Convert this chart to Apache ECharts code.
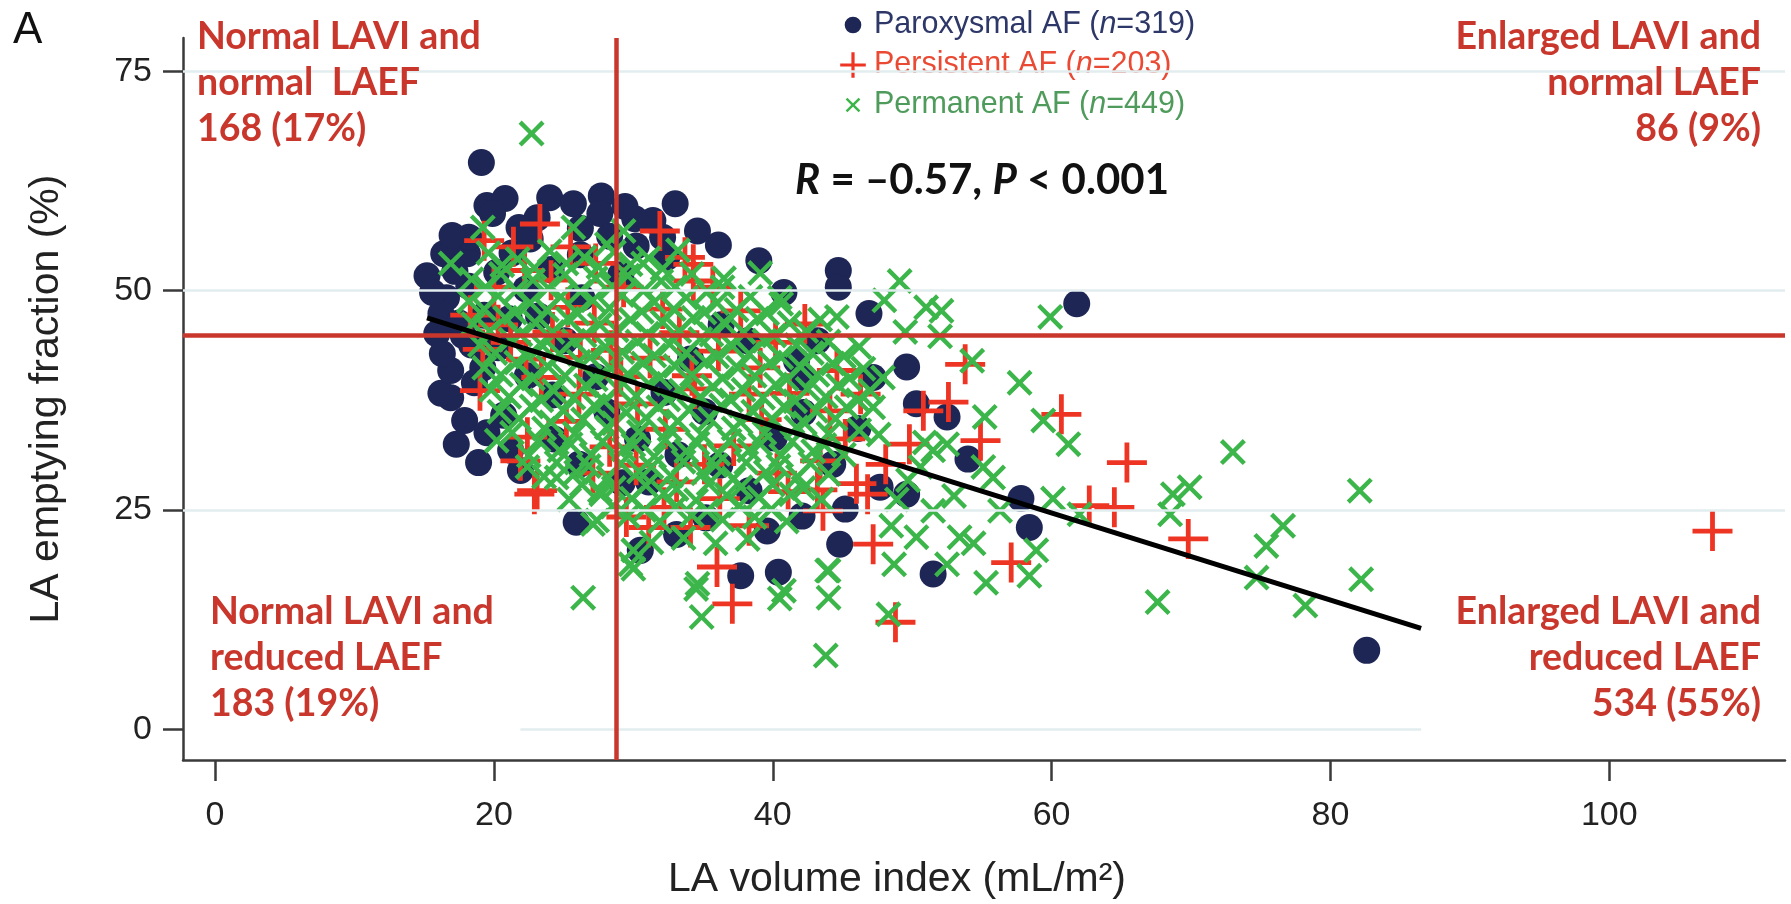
<!DOCTYPE html>
<html><head><meta charset="utf-8">
<script src="https://cdn.jsdelivr.net/npm/echarts@6/dist/echarts.min.js"></script>
<style>html,body{margin:0;padding:0;background:#fff}#c{width:1791px;height:904px}</style>
</head><body><div id="c"></div>
<script>
const xTicks = [0, 20, 40, 60, 80, 100];
const yTicks = [0, 25, 50, 75];
const laviCut = 28.8;
const laefCut = 44.9;
const trend = [[15.2, 46.9], [86.5, 11.5]];

const paroxysmal = [
[19.1,64.6],[19.5,59.7],[20.8,60.5],[24.0,60.6],[25.7,59.9],[27.7,60.8],[27.6,58.8],[19.9,58.8],
[15.2,51.7],[16.4,54.2],[18.1,54.2],[16.6,49.2],[16.2,47.4],[15.9,45.1],
[33.0,59.9],[34.6,56.8],[31.4,58.0],[32.4,53.8],[39.0,53.4],[40.8,49.8],[44.7,52.3],[44.7,50.4],[46.9,47.4],[43.2,44.3],
[16.9,37.8],[16.2,38.3],[16.9,40.9],[16.3,42.8],[17.3,32.5],[20.7,35.8],[21.2,31.8],[21.9,29.5],[25.9,23.6],
[49.6,41.3],[50.3,37.1],[47.2,40.1],[49.6,26.8],[47.7,27.6],[51.5,17.7],[37.7,17.5],[40.4,17.9],[44.8,21.1],[39.6,22.6],[41.7,42.0],[42.2,40.1],
[61.8,48.5],[52.5,35.6],[54.0,30.8],[57.8,26.3],[58.4,23.0],[82.6,9.0],[30.5,20.4],
[18.2,50.5],[17.5,46.3],[18.4,43.8],[19.2,41.2],[20.3,43.5],[21.1,46.8],[22.3,50.2],[24.1,52.4],[26.2,54.1],[28.3,56.2],
[30.2,55.1],[29.1,51.8],[26.3,49.2],[23.2,47.1],[25.1,44.3],[27.3,40.2],[24.2,38.1],[22.4,40.3],[28.1,36.2],[30.3,33.1],
[32.2,38.4],[34.1,42.2],[36.3,46.1],[38.2,44.3],[35.1,36.2],[33.2,31.3],[31.1,28.2],[36.2,30.1],[38.3,27.2],[40.1,33.2],
[42.2,36.1],[44.3,30.2],[46.1,34.3],[45.2,25.1],[42.1,24.3],[35.2,24.1],[33.1,22.2],[29.2,28.1],[26.1,30.2],[24.3,33.1],
[19.3,47.2],[20.2,52.1],[21.3,54.3],[18.2,56.1],[17.2,52.2],[26.2,57.1],[30.1,58.2],[32.1,56.1],[23.1,58.3],[21.8,57.2],
[17.8,44.9],[18.6,39.5],[17.9,35.2],[19.5,33.8],[18.9,30.4],[15.6,49.8],[17.0,56.3],[22.6,55.9],[29.4,59.6],[36.1,55.2]
];

const persistent = [
[19.3,55.7],[23.3,57.6],[21.4,55.0],[25.5,55.0],[29.3,50.4],[20.0,50.4],[31.9,56.8],[34.3,53.0],[34.3,51.1],[35.7,50.4],[37.7,47.7],
[53.8,41.6],[52.6,37.3],[60.7,35.9],[54.9,32.9],[65.4,30.4],[62.7,25.5],[64.5,25.3],[69.8,21.7],[57.1,19.0],[107.4,22.6],
[37.1,14.3],[48.8,12.2],
[19.0,38.6],[22.4,33.3],[23.1,27.2],[29.5,24.2],[21.9,30.6],
[44.6,40.9],[50.8,36.3],[49.8,32.5],[43.4,30.6],[46.0,28.0],[47.2,21.1],[43.6,24.9],[36.0,18.5],[31.1,23.0],[34.1,23.0],
[33.7,53.8],[32.1,47.9],[34.4,38.8],[22.9,26.8],[46.8,26.8],
[21.2,44.1],[22.3,42.2],[23.4,40.1],[24.2,45.3],[25.3,48.1],[27.2,46.3],[28.4,43.2],[26.1,38.2],[25.2,35.1],[28.3,32.2],
[30.2,30.1],[32.3,34.2],[34.2,40.3],[36.1,43.1],[38.3,38.2],[39.2,35.3],[40.3,29.2],[41.1,27.1],[36.2,26.3],[33.1,28.2],
[30.3,37.1],[31.2,42.3],[33.3,45.2],[40.2,44.1],[42.3,46.2],[44.1,36.3],[45.2,33.1],[46.3,38.2],[20.3,46.1],[24.1,51.2],
[27.3,53.1],[22.2,52.3],[18.3,47.2],[19.2,43.3],[29.1,40.2],[37.2,32.3],[35.1,30.2],[43.2,27.3],[48.1,30.2],[38.3,23.2],
[27.1,29.2],[32.2,25.3],[41.2,38.3],[39.1,41.2],[26.2,42.4]
];

const permanent = [
[22.7,67.9],[19.2,57.2],[16.9,53.1],[29.3,56.8],[25.7,57.2],[28.1,55.3],
[49.1,51.1],[51.0,48.1],[44.6,47.0],[39.1,52.0],[40.5,49.2],[36.4,50.4],[30.7,53.1],
[59.9,47.0],[52.1,47.7],[54.3,42.0],[57.7,39.5],[59.4,35.2],[61.2,32.5],[55.2,35.6],[52.5,32.5],[55.8,28.7],[55.1,29.9],
[73.0,31.6],[82.1,27.2],[60.1,26.3],[62.0,24.5],[68.7,26.8],[69.9,27.6],[68.5,24.5],[76.6,23.2],[75.4,20.9],[74.7,17.3],
[82.2,17.1],[78.2,14.1],[67.6,14.5],[55.3,16.7],[58.4,17.5],[58.9,20.4],[54.4,21.2],[52.5,18.8],[56.3,24.9],
[26.4,15.0],[30.0,18.3],[34.5,16.0],[34.9,12.8],[40.5,14.9],[44.0,15.0],[44.0,18.1],[43.8,8.4],[48.3,13.1],
[20.2,32.9],[22.4,29.9],[27.1,23.4],[30.0,20.4],[29.8,18.8],[24.5,28.7],[27.6,27.2],
[47.2,36.7],[50.3,21.9],[48.7,18.8],[43.9,18.1],[40.8,15.8],[34.6,16.6],[51.5,24.9],
[49.7,28.4],[53.4,21.9],[48.5,23.2],[50.9,32.7],[47.6,33.6],[48.9,26.2],[50.6,29.9],[53.0,26.6],[52.0,44.8],[49.5,45.3],[48.0,48.9],
[47.9,40.1],[51.5,31.8],
[19.6,54.3],[21.7,53.6],[24.0,54.5],[26.5,53.8],[28.6,54.4],[31.1,53.7],[33.2,54.6],
[18.4,51.3],[20.5,51.9],[22.8,51.2],[25.1,51.8],[27.3,51.4],[29.6,51.7],[32.0,51.1],[34.2,51.9],[36.5,51.4],
[18.2,48.8],[20.3,49.4],[22.6,48.6],[24.8,49.3],[27.1,48.9],[29.2,49.5],[31.5,48.7],[33.8,49.2],[36.0,48.6],[38.4,49.3],[40.6,48.5],
[18.5,46.2],[20.8,46.9],[23.0,46.3],[25.3,46.8],[27.6,46.1],[29.8,46.7],[32.1,46.4],[34.3,46.9],[36.6,46.2],[38.9,46.8],[41.2,46.3],[43.4,46.7],
[19.0,43.8],[21.2,44.4],[23.5,43.7],[25.7,44.3],[28.0,43.6],[30.3,44.2],[32.6,43.9],[34.8,44.5],[37.1,43.7],[39.4,44.3],[41.7,43.8],[44.0,44.2],[46.2,43.6],
[19.3,41.2],[21.6,41.8],[23.9,41.3],[26.1,41.9],[28.4,41.1],[30.7,41.7],[33.0,41.4],[35.2,41.9],[37.5,41.2],[39.8,41.8],[42.0,41.3],[44.3,41.7],[46.5,41.1],
[19.8,38.7],[22.0,39.3],[24.3,38.6],[26.6,39.2],[28.9,38.8],[31.1,39.4],[33.4,38.6],[35.7,39.1],[37.9,38.7],[40.2,39.3],[42.5,38.8],[44.7,39.2],[47.0,38.6],
[20.4,36.2],[22.7,36.8],[25.0,36.3],[27.2,36.9],[29.5,36.1],[31.8,36.7],[34.0,36.4],[36.3,36.9],[38.6,36.2],[40.8,36.8],[43.1,36.3],[45.3,36.7],
[21.3,33.8],[23.6,34.3],[25.8,33.7],[28.1,34.4],[30.4,33.9],[32.6,34.2],[34.9,33.6],[37.2,34.3],[39.4,33.8],[41.7,34.4],[44.0,33.7],[46.2,34.1],
[22.5,31.2],[24.7,31.8],[27.0,31.3],[29.3,31.9],[31.5,31.1],[33.8,31.7],[36.1,31.4],[38.3,31.8],[40.6,31.2],[42.9,31.7],[45.1,31.3],
[23.6,28.8],[25.9,29.3],[28.2,28.7],[30.4,29.4],[32.7,28.9],[35.0,29.2],[37.2,28.6],[39.5,29.3],[41.8,28.8],[44.0,29.1],
[25.4,26.2],[27.7,26.8],[29.9,26.3],[32.2,26.9],[34.5,26.1],[36.7,26.7],[39.0,26.4],[41.3,26.8],[43.5,26.2],
[27.4,23.8],[29.6,24.3],[31.9,23.7],[34.2,24.4],[36.4,23.9],[38.7,24.2],[41.0,23.7],
[31.3,21.3],[33.6,21.8],[35.9,21.2],[38.2,21.7],
[20.6,52.9],[22.9,52.6],[25.2,53.1],[27.5,52.7],[29.8,53.0],[32.1,52.5],
[19.4,50.4],[21.6,50.0],[23.9,50.3],[26.2,49.9],[28.5,50.5],[30.8,50.1],[33.0,50.4],[35.3,49.9],
[19.3,47.9],[21.5,47.5],[23.8,47.8],[26.0,47.4],[28.3,48.0],[30.6,47.6],[32.9,47.9],[35.1,47.5],[37.4,47.8],[39.6,47.4],
[19.7,45.4],[21.9,45.0],[24.2,45.3],[26.5,44.9],[28.8,45.5],[31.0,45.1],[33.3,45.4],[35.6,45.0],[37.9,45.3],[40.1,44.9],[42.4,45.4],
[20.1,42.9],[22.4,42.5],[24.7,42.8],[26.9,42.4],[29.2,43.0],[31.5,42.6],[33.8,42.9],[36.0,42.5],[38.3,42.8],[40.6,42.4],[42.8,42.9],[45.1,42.5],
[20.5,40.4],[22.8,40.0],[25.1,40.3],[27.3,39.9],[29.6,40.5],[31.9,40.1],[34.2,40.4],[36.4,40.0],[38.7,40.3],[41.0,39.9],[43.2,40.4],[45.5,40.0],
[21.1,37.9],[23.4,37.5],[25.7,37.8],[27.9,37.4],[30.2,38.0],[32.5,37.6],[34.8,37.9],[37.0,37.5],[39.3,37.8],[41.6,37.4],[43.8,37.9],[46.1,37.5],
[21.8,35.4],[24.1,35.0],[26.4,35.3],[28.6,34.9],[30.9,35.5],[33.2,35.1],[35.5,35.4],[37.7,35.0],[40.0,35.3],[42.3,34.9],[44.5,35.4],
[23.2,32.9],[25.5,32.5],[27.8,32.8],[30.0,32.4],[32.3,33.0],[34.6,32.6],[36.9,32.9],[39.1,32.5],[41.4,32.8],[43.7,32.4],
[24.5,30.4],[26.8,30.0],[29.1,30.3],[31.3,29.9],[33.6,30.5],[35.9,30.1],[38.1,30.4],[40.4,30.0],[42.7,30.3],
[26.3,27.9],[28.6,27.5],[30.9,27.8],[33.1,27.4],[35.4,28.0],[37.7,27.6],[40.0,27.9],[42.2,27.5],
[28.5,25.4],[30.8,25.0],[33.0,25.3],[35.3,24.9],[37.6,25.5],[39.9,25.1]
];

const names = ['Paroxysmal AF', 'Persistent AF', 'Permanent AF'];
const counts = [319, 203, 449];

const PLUS = 'path://M44,0H56V44H100V56H56V100H44V56H0V44H44Z';
const CROSS = 'path://M0,12L12,0L50,38L88,0L100,12L62,50L100,88L88,100L50,62L12,100L0,88L38,50Z';
const LEG_CIRCLE = 'path://M0,0h0.01v0.01z M100,100h-0.01v-0.01z M50,24a26,26 0 1,1 -0.01,0z';
const LEG_PLUS = 'path://M0,0h0.01v0.01z M100,100h-0.01v-0.01z M45,10H55V45H90V55H55V90H45V55H10V45H45Z';
const LEG_CROSS = 'path://M0,0h0.01v0.01z M100,100h-0.01v-0.01z M27,32.5L32.5,27L50,44.5L67.5,27L73,32.5L55.5,50L73,67.5L67.5,73L50,55.5L32.5,73L27,67.5L44.5,50Z';

const BLUE = '#1d2654', RED = '#ee3524', GREEN = '#3cb64a', QRED = '#c9372c';
const AX = '#3a3a3a';
const gridLine = {color: '#e2edef', width: 2.5, type: 'solid'};
const redLine = {color: QRED, width: 4.5, type: 'solid'};

const chart = echarts.init(document.getElementById('c'), null, {renderer: 'canvas'});
const qFont = {fontFamily: 'Lato', fontWeight: 'bold', fontSize: 37.5, fill: QRED, lineHeight: 46};
const lf = 30.5;

chart.setOption({
  animation: false,
  backgroundColor: '#fff',
  grid: {left: 183, top: 38, right: 6, bottom: 144},
  xAxis: {
    type: 'value', min: -2.3, max: 112.6,
    axisLine: {show: true, onZero: false, lineStyle: {color: AX, width: 2.5}},
    axisTick: {show: true, customValues: xTicks, length: 21, lineStyle: {color: AX, width: 2.5}},
    axisLabel: {customValues: xTicks, margin: 39, fontSize: 34, color: '#222', fontFamily: 'Liberation Sans'},
    splitLine: {show: false}
  },
  yAxis: {
    type: 'value', min: -3.5, max: 78.8,
    axisLine: {show: true, onZero: false, lineStyle: {color: AX, width: 2.5}},
    axisTick: {show: true, customValues: yTicks, length: 20, lineStyle: {color: AX, width: 2.5}},
    axisLabel: {customValues: yTicks, margin: 31, fontSize: 34, color: '#222', fontFamily: 'Liberation Sans'},
    splitLine: {show: false},
    name: 'LA emptying fraction (%)', nameLocation: 'middle', nameGap: 116, nameRotate: 90,
    nameTextStyle: {fontSize: 41, color: '#222', fontFamily: 'Liberation Sans'}
  },
  legend: {
    orient: 'vertical', left: 732, top: 9,
    padding: [0, 20, 0, 105], backgroundColor: '#fff',
    itemWidth: 32, itemHeight: 32, itemGap: 8,
    data: [
      {name: names[0], icon: LEG_CIRCLE},
      {name: names[1], icon: LEG_PLUS},
      {name: names[2], icon: LEG_CROSS}
    ],
    formatter: function (name) {
      const i = names.indexOf(name);
      const k = ['a', 'b', 'c'][i];
      return '{' + k + '|' + name + ' (}{' + k + 'i|n}{' + k + '|=' + counts[i] + ')}';
    },
    textStyle: {
      fontFamily: 'Liberation Sans', fontSize: lf, lineHeight: 30,
      rich: {
        a: {color: '#2d3768', fontSize: lf, fontFamily: 'Liberation Sans'},
        ai: {color: '#2d3768', fontSize: lf, fontFamily: 'Liberation Sans', fontStyle: 'italic'},
        b: {color: '#ea4a33', fontSize: lf, fontFamily: 'Liberation Sans'},
        bi: {color: '#ea4a33', fontSize: lf, fontFamily: 'Liberation Sans', fontStyle: 'italic'},
        c: {color: '#4f9b5b', fontSize: lf, fontFamily: 'Liberation Sans'},
        ci: {color: '#4f9b5b', fontSize: lf, fontFamily: 'Liberation Sans', fontStyle: 'italic'}
      }
    }
  },
  graphic: [
    {type: 'text', x: 13, y: 31, style: {text: 'A', fontFamily: 'Liberation Sans', fontSize: 44, fill: '#111', verticalAlign: 'middle', align: 'left'}},
    {type: 'text', x: 897, y: 880, style: {text: 'LA volume index (mL/m²)', fontFamily: 'Liberation Sans', fontSize: 41, fill: '#222', verticalAlign: 'middle', align: 'center'}},
    {type: 'text', x: 197, y: 14, z: 10, style: Object.assign({text: 'Normal LAVI and\nnormal  LAEF\n168 (17%)', align: 'left', verticalAlign: 'top'}, qFont)},
    {type: 'text', x: 1761, y: 14, z: 10, style: Object.assign({text: 'Enlarged LAVI and\nnormal LAEF\n86 (9%)', align: 'right', verticalAlign: 'top'}, qFont)},
    {type: 'text', x: 210, y: 589, z: 10, style: Object.assign({text: 'Normal LAVI and\nreduced LAEF\n183 (19%)', align: 'left', verticalAlign: 'top'}, qFont)},
    {type: 'text', x: 1761, y: 589, z: 10, style: Object.assign({text: 'Enlarged LAVI and\nreduced LAEF\n534 (55%)', align: 'right', verticalAlign: 'top'}, qFont)},
    {type: 'text', x: 982, y: 180, z: 10, style: {
      text: '{i|R}{n| = –0.57, }{i|P}{n| < 0.001}', align: 'center', verticalAlign: 'middle',
      rich: {
        i: {fontFamily: 'Lato', fontWeight: 'bold', fontStyle: 'italic', fontSize: 42, fill: '#111'},
        n: {fontFamily: 'Lato', fontWeight: 'bold', fontSize: 42, fill: '#111'}
      }
    }}
  ],
  series: [
    {
      name: 'ref', type: 'line', data: [], z: 1, silent: true,
      markLine: {
        silent: true, symbol: ['none', 'none'], label: {show: false}, animation: false,
        data: [
          {yAxis: yTicks[3], lineStyle: gridLine},
          {yAxis: yTicks[2], lineStyle: gridLine},
          {yAxis: yTicks[1], lineStyle: gridLine},
          [{coord: [21.9, yTicks[0]], lineStyle: gridLine}, {coord: [86.5, yTicks[0]]}],
          {xAxis: laviCut, lineStyle: redLine},
          {yAxis: laefCut, lineStyle: redLine}
        ]
      }
    },
    {name: names[0], type: 'scatter', data: paroxysmal, symbol: 'circle', symbolSize: 27, itemStyle: {color: BLUE, opacity: 1}, z: 2},
    {name: names[1], type: 'scatter', data: persistent, symbol: PLUS, symbolSize: 40, symbolKeepAspect: true, itemStyle: {color: RED, opacity: 1}, z: 3},
    {name: names[2], type: 'scatter', data: permanent, symbol: CROSS, symbolSize: 26, symbolKeepAspect: true, itemStyle: {color: GREEN, opacity: 1}, z: 4},
    {name: 'trend', type: 'line', data: trend, symbol: 'none', lineStyle: {color: '#000', width: 5}, z: 5, silent: true}
  ]
});
</script></body></html>
